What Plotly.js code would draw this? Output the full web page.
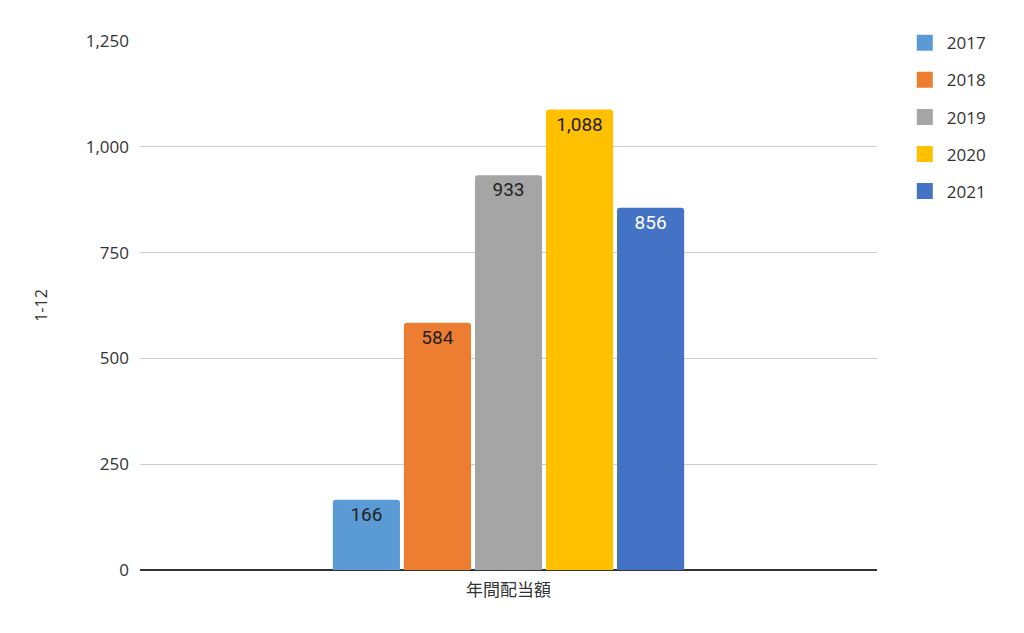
<!DOCTYPE html>
<html><head><meta charset="utf-8">
<script src="https://cdn.plot.ly/plotly-3.0.1.min.js"></script>
<style>html,body{margin:0;padding:0;background:#fff}#chart{width:1024px;height:633px}</style>
</head><body><div id="chart"></div>
<script>
const category = ["年間配当額"];
const years = ["2017", "2018", "2019", "2020", "2021"];
const values = [166, 584, 933, 1088, 856];
const colors = ["#5b9bd5", "#ed7d31", "#a5a5a5", "#ffc000", "#4472c4"];
const textColors = ["#222", "#222", "#222", "#222", "#fff"];
const yTicks = [0, 250, 500, 750, 1000, 1250];

const bars = years.map((y, i) => ({
  type: "bar",
  name: y,
  x: category,
  y: [values[i]],
  text: [values[i].toLocaleString("en-US")],
  textposition: "inside",
  insidetextanchor: "end",
  textangle: 0,
  textfont: {family: "Roboto, sans-serif", size: 19, color: textColors[i]},
  marker: {color: colors[i], cornerradius: 3},
  showlegend: false,
  hoverinfo: "none"
}));

const legendItems = years.map((y, i) => ({
  type: "scatter",
  mode: "markers",
  name: y,
  x: [null],
  y: [null],
  marker: {symbol: "square", size: 16, color: colors[i]},
  legendgroup: "g" + i,
  hoverinfo: "none"
}));

Plotly.newPlot("chart", bars.concat(legendItems), {
  width: 1024, height: 633,
  margin: {l: 140, r: 147, t: 41, b: 63},
  paper_bgcolor: "#fff", plot_bgcolor: "#fff",
  font: {family: "'Open Sans', 'Noto Sans CJK JP', sans-serif", color: "#333"},
  barmode: "group",
  bargap: 0.518,
  bargroupgap: 0.055,
  showlegend: true,
  legend: {x: 1.035, y: 1.03, xanchor: "left", yanchor: "top", itemwidth: 34,
           font: {size: 17, color: "#333"}, traceorder: "grouped", tracegroupgap: 12},
  xaxis: {type: "category", showgrid: false, showline: false, ticks: "", ticklabelstandoff: 8,
          tickfont: {family: "'Noto Sans CJK JP', sans-serif", size: 17, color: "#333"}},
  yaxis: {range: [0, 1250], tickvals: yTicks, ticktext: yTicks.map(v => v.toLocaleString("en-US")),
          gridcolor: "#cccccc", gridwidth: 1, zeroline: true, zerolinecolor: "#333", zerolinewidth: 1.5,
          ticks: "", ticklabelstandoff: 10,
          tickfont: {size: 17, color: "#333"},
          title: {text: "1-12", font: {size: 16, color: "#333"}, standoff: 34}}
}, {displayModeBar: false, staticPlot: true});
</script></body></html>
